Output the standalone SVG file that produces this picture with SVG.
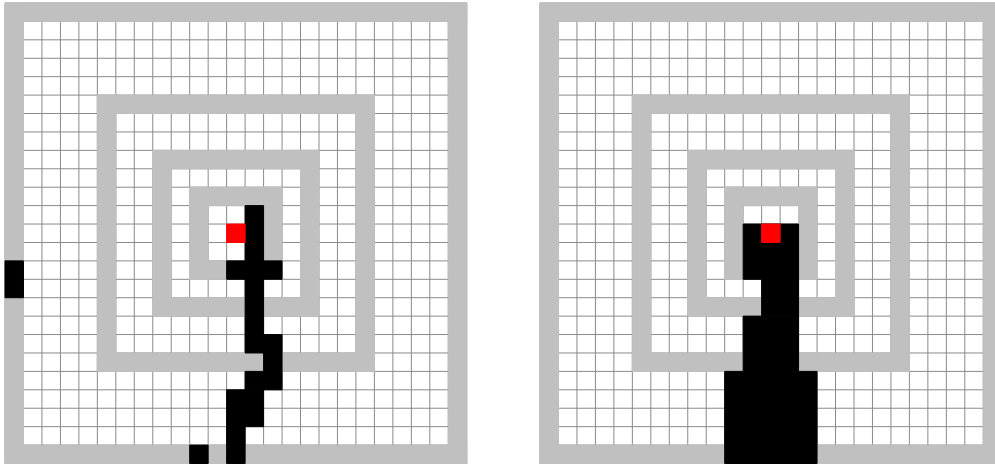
<svg xmlns="http://www.w3.org/2000/svg" width="995" height="467" viewBox="0 0 995 467">
<style>
.bg{fill:#ffffff}
.grid{fill:none;stroke:#8a8a8a;stroke-width:1;vector-effect:non-scaling-stroke}
.wall{fill:#c0c0c0;stroke:#c0c0c0;stroke-width:1;vector-effect:non-scaling-stroke}
.path{fill:#000000;stroke:#000000;stroke-width:1;vector-effect:non-scaling-stroke}
.goal{fill:#ff0000;stroke:#ff0000;stroke-width:1;vector-effect:non-scaling-stroke}
</style>
<defs>
<path id="gridlines" class="grid" d="M0 0V25M1 0V25M2 0V25M3 0V25M4 0V25M5 0V25M6 0V25M7 0V25M8 0V25M9 0V25M10 0V25M11 0V25M12 0V25M13 0V25M14 0V25M15 0V25M16 0V25M17 0V25M18 0V25M19 0V25M20 0V25M21 0V25M22 0V25M23 0V25M24 0V25M25 0V25M0 0H25M0 1H25M0 2H25M0 3H25M0 4H25M0 5H25M0 6H25M0 7H25M0 8H25M0 9H25M0 10H25M0 11H25M0 12H25M0 13H25M0 14H25M0 15H25M0 16H25M0 17H25M0 18H25M0 19H25M0 20H25M0 21H25M0 22H25M0 23H25M0 24H25M0 25H25"/>
<g id="walls">
<rect class="wall" x="0" y="0" width="25" height="1"/>
<rect class="wall" x="0" y="24" width="25" height="1"/>
<rect class="wall" x="0" y="0" width="1" height="25"/>
<rect class="wall" x="24" y="0" width="1" height="25"/>
<rect class="wall" x="5" y="5" width="15" height="1"/>
<rect class="wall" x="5" y="19" width="15" height="1"/>
<rect class="wall" x="5" y="5" width="1" height="15"/>
<rect class="wall" x="19" y="5" width="1" height="15"/>
<rect class="wall" x="8" y="8" width="9" height="1"/>
<rect class="wall" x="8" y="16" width="9" height="1"/>
<rect class="wall" x="8" y="8" width="1" height="9"/>
<rect class="wall" x="16" y="8" width="1" height="9"/>
<rect class="wall" x="10" y="10" width="5" height="1"/>
<rect class="wall" x="10" y="14" width="5" height="1"/>
<rect class="wall" x="10" y="10" width="1" height="5"/>
<rect class="wall" x="14" y="10" width="1" height="5"/>
</g>
</defs>
<g id="left-grid" transform="translate(5,3) scale(18.47,18.42)">
<rect class="bg" x="0" y="0" width="25" height="25"/>
<use href="#gridlines"/>
<use href="#walls"/>
<g id="left-path">
<rect class="path" x="0" y="14" width="1" height="2"/>
<rect class="path" x="13" y="11" width="1" height="8"/>
<rect class="path" x="12" y="14" width="3" height="1"/>
<rect class="path" x="14" y="18" width="1" height="3"/>
<rect class="path" x="13" y="20" width="1" height="1"/>
<rect class="path" x="12" y="21" width="2" height="2"/>
<rect class="path" x="12" y="23" width="1" height="2"/>
<rect class="path" x="10" y="24" width="1" height="1"/>
</g>
<rect class="goal" x="12" y="12" width="1" height="1"/>
</g>
<g id="right-grid" transform="translate(540,3) scale(18.47,18.42)">
<rect class="bg" x="0" y="0" width="25" height="25"/>
<use href="#gridlines"/>
<use href="#walls"/>
<g id="right-path">
<rect class="path" x="11" y="12" width="3" height="3"/>
<rect class="path" x="12" y="15" width="2" height="2"/>
<rect class="path" x="11" y="17" width="3" height="3"/>
<rect class="path" x="10" y="20" width="5" height="5"/>
</g>
<rect class="goal" x="12" y="12" width="1" height="1"/>
</g>
</svg>
